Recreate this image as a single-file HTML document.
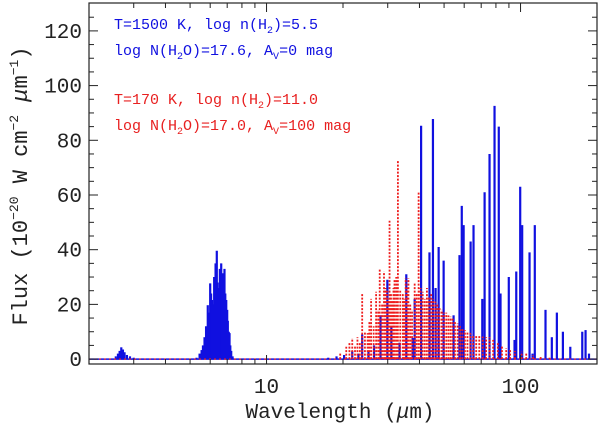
<!DOCTYPE html>
<html><head><meta charset="utf-8">
<style>
html,body{margin:0;padding:0;background:#fff;}
svg{display:block;font-family:"Liberation Mono",monospace;}
</style></head>
<body>
<svg id="chart" width="600" height="428" viewBox="0 0 600 428" xmlns="http://www.w3.org/2000/svg">
<g id="marks"></g>
<g id="axes"></g>
<g font-size="15">
<text x="114" y="29" fill="#1010e0">T=1500 K, log n(H<tspan font-size="10" dy="4">2</tspan><tspan dy="-4">)=5.5</tspan></text>
<text x="114" y="55" fill="#1010e0">log N(H<tspan font-size="10" dy="4">2</tspan><tspan dy="-4">O)=17.6, A</tspan><tspan font-size="10" dy="4">V</tspan><tspan dy="-4">=0 mag</tspan></text>
<text x="114" y="104" fill="#e82020">T=170 K, log n(H<tspan font-size="10" dy="4">2</tspan><tspan dy="-4">)=11.0</tspan></text>
<text x="114" y="130" fill="#e82020">log N(H<tspan font-size="10" dy="4">2</tspan><tspan dy="-4">O)=17.0, A</tspan><tspan font-size="10" dy="4">V</tspan><tspan dy="-4">=100 mag</tspan></text>
</g>
<text x="340" y="418" font-size="21" text-anchor="middle" fill="#222">Wavelength (<tspan font-style="italic">μ</tspan>m)</text>
<text transform="translate(27,186) rotate(-90)" font-size="22" text-anchor="middle" fill="#222">Flux (10<tspan font-size="13" dy="-9">−20</tspan><tspan dy="9"> W cm</tspan><tspan font-size="13" dy="-9">−2</tspan><tspan dy="9"> </tspan><tspan font-style="italic">μ</tspan>m<tspan font-size="13" dy="-9">−1</tspan><tspan dy="9">)</tspan></text>
</svg>
<script>
// data
const blueWl = [2.55,2.6,2.64,2.68,2.72,2.76,2.82,2.9,3.0,
 5.3,5.45,5.55,5.62,5.7,5.78,5.87,5.93,6.0,6.05,6.1,6.15,6.22,6.3,6.37,6.42,6.49,6.55,6.63,6.68,6.73,6.78,6.83,6.88,6.94,7.0,7.04,7.1,7.15,7.2,7.26,7.35,
 17.5,18.86,20.2,21.75,23.0,23.8,25.2,26.5,28.1,29.9,31.0,33.4,35.5,37.6,38.3,40.6,43.8,45.2,46.3,47.6,49.8,54.5,57.5,58.7,59.7,63.6,65.3,70.7,72.2,75.5,79.0,82.1,83.4,89.9,94.7,96.2,99.7,101.5,108.5,111.5,113.8,125.4,132.8,139,146.8,157,175,180.3,186];
const blueFlux = [1,2,3,4.3,3.5,2.5,1.5,1,0.5,
 0.5,2,3.3,5,8,12,19.7,17,27.7,24,21.6,20,30,35,39.6,28,26,33,35,31,31.4,27,33,24,21.6,18,14,10,9.5,5,3,1,
 0.5,1,1.5,3,2,9,3,5,16,29,12,6,31,7.7,22,85.3,39,87.8,26,41,36,16,38,56,49,43,49,22,61,75,92.6,85,24,30,7,32,63,49,39,2,49,18,8,17,10,4.5,10,10.6,2];
const redWl = [19.5,20.6,21.2,21.75,22.3,22.8,23.3,23.8,24.4,25.0,25.4,25.8,26.4,27.0,27.5,27.9,28.5,29.0,29.4,29.8,30.2,30.5,30.9,31.3,31.6,31.9,32.4,32.9,33.6,34.4,34.8,35.3,35.8,36.2,36.8,37.4,38.3,39.0,39.7,40.4,41.2,42.0,42.8,43.6,44.5,45.3,46.2,47.1,48.0,49.0,50.0,51.0,52.0,53.0,54.0,55.2,56.5,57.8,59.0,60.4,61.8,63.4,65.0,66.9,68.8,71.0,73.2,75.5,78.0,81.4,84.5,87.8,91,95,101,105.3,112,120,130];
const redFlux = [2,4.5,6,7.7,5,8,6,24,10,9.5,14,22,12,24.6,18,33,20,32,26,25,22,50.6,24,21.6,26,29,30,72.5,25,24,22,29.6,26,29.6,20,18,27.8,24,61,26,24.6,22,26,23,24,22,21,20.5,19,18,17,17,16,15.5,15,14,13,12,11,10.6,10,9.5,9,8.8,8.5,8.2,8,8,7,5.8,5,4,3.5,3,2.7,2,1.5,1,0.5];
const yTicks = [0,20,40,60,80,100,120];
const xTickLabels = [10,100];

const NS="http://www.w3.org/2000/svg";
const L=89,R=597,T=3,B=364;
const X0=Math.log10(2),X1=Math.log10(200),Y0=-1.8,Y1=130.2;
const xs=w=>L+(Math.log10(w)-X0)/(X1-X0)*(R-L);
const ys=v=>B-(v-Y0)/(Y1-Y0)*(B-T);
const marks=document.getElementById('marks');
const axes=document.getElementById('axes');
function mk(tag,attrs,parent){const e=document.createElementNS(NS,tag);for(const k in attrs)e.setAttribute(k,attrs[k]);parent.appendChild(e);return e;}

let bl=mk('line',{x1:L,x2:R,y1:ys(0),y2:ys(0),stroke:'#1010e0','stroke-width':1.5},marks);


blueWl.forEach((w,i)=>{
  const x=xs(w);
  const el=mk('line',{x1:x,x2:x,y1:ys(0),y2:ys(blueFlux[i]),stroke:'#1010e0','stroke-width':2.2},marks);
  
  
});
redWl.forEach((w,i)=>{
  const x=xs(w);
  const el=mk('line',{x1:x,x2:x,y1:ys(0),y2:ys(redFlux[i]),stroke:'#ee1c1c','stroke-width':1.8,'stroke-dasharray':'2,1.5'},marks);
  
  
});
let rb=mk('line',{x1:L,x2:R,y1:ys(0),y2:ys(0),stroke:'#ee1c1c','stroke-width':1.2,'stroke-dasharray':'2,3'},marks);



let fr=mk('rect',{x:L,y:T,width:R-L,height:B-T,fill:'none',stroke:'#222','stroke-width':1.2},axes);


for(let v=0;v<=125;v+=5){
  const y=ys(v),len=(v%20===0)?9:5;
  mk('line',{x1:L,x2:L+len,y1:y,y2:y,stroke:'#222','stroke-width':1},axes);
  mk('line',{x1:R,x2:R-len,y1:y,y2:y,stroke:'#222','stroke-width':1},axes);
}
yTicks.forEach(v=>{
  const t=mk('text',{x:82,y:ys(v)+7,'font-size':21,'text-anchor':'end',fill:'#222'},axes);
  t.textContent=v;
  
  
});
[2,3,4,5,6,7,8,9,10,20,30,40,50,60,70,80,90,100,200].forEach(w=>{
  const x=xs(w),len=(w===10||w===100)?9:5;
  mk('line',{x1:x,x2:x,y1:B,y2:B-len,stroke:'#222','stroke-width':1},axes);
  mk('line',{x1:x,x2:x,y1:T,y2:T+len,stroke:'#222','stroke-width':1},axes);
});
xTickLabels.forEach(w=>{
  const t=mk('text',{x:xs(w),y:393,'font-size':21,'text-anchor':'middle',fill:'#222'},axes);
  t.textContent=w;
  
  
});
</script>
</body></html>
